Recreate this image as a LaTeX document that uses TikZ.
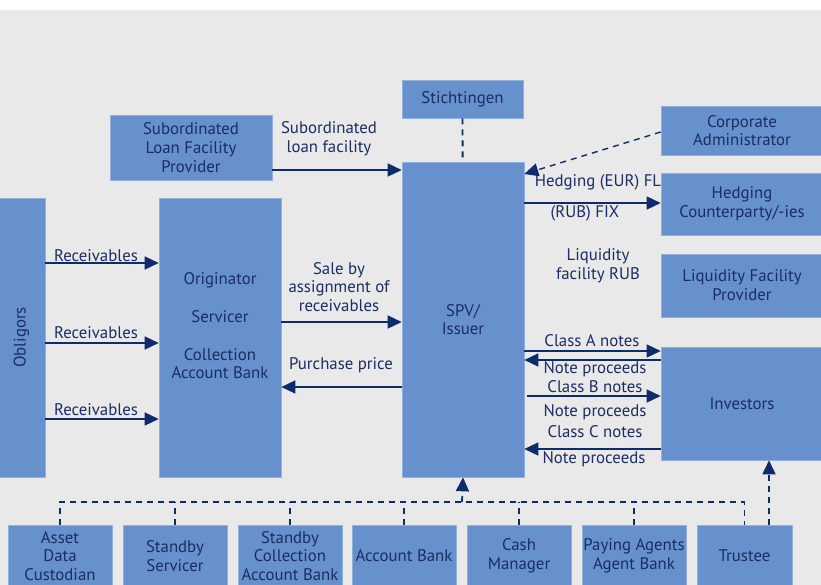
\documentclass[tikz,border=0pt]{standalone}
\usepackage{fontspec}
\setmainfont{PT Sans}
\usetikzlibrary{arrows.meta}
\definecolor{boxblue}{HTML}{6691CD}
\definecolor{boxedge}{HTML}{93B0DD}
\definecolor{navy}{HTML}{1B2D63}
\definecolor{arrnavy}{HTML}{0E2B6C}
\definecolor{bggray}{HTML}{E9E9E9}

\begin{document}
\begin{tikzpicture}[x=1pt, y=-1pt,
  box/.style={draw=boxedge, line width=0.6pt, fill=boxblue, text=navy, align=center,
    inner sep=0pt, font=\fontsize{16.8}{18.7}\selectfont},
  lbl/.style={text=navy, align=center, inner sep=0pt, font=\fontsize{16.8}{18.7}\selectfont},
  arr/.style={draw=arrnavy, line width=1.4pt, -{Triangle[length=14pt,width=13pt]}},
  dsh/.style={draw=arrnavy, line width=1.8pt, dash pattern=on 6pt off 5pt},
  darr/.style={dsh, -{Triangle[length=14pt,width=13pt]}}]
\useasboundingbox (0,0) rectangle (821,585);
\fill[bggray] (0,10) rectangle (821,585);

\node[box, minimum width=121pt, minimum height=38pt] (stich) at (462.5,99) {Stichtingen};
\node[box, minimum width=162pt, minimum height=65pt] (sub) at (191,147.5) {Subordinated\\Loan Facility\\Provider};
\node[box, minimum width=162pt, minimum height=49pt] (corp) at (742,130.5) {Corporate\\Administrator};
\node[box, minimum width=162pt, minimum height=62pt] (hedge) at (742,204) {Hedging\\Counterparty/-ies};
\node[box, minimum width=162pt, minimum height=63pt] (liq) at (742,285.5) {Liquidity Facility\\Provider};
\node[box, minimum width=162pt, minimum height=113pt] (inv) at (742,403.5) {Investors};
\node[box, minimum width=122pt, minimum height=315pt] (spv) at (463,319.5) {SPV/\\Issuer};
\node[box, minimum width=122pt, minimum height=279pt] (orig) at (220,337.5) {};
\node[lbl] (origt) at (220,326) {Originator\\[19pt]Servicer\\[19pt]Collection\\Account Bank};
\node[box, minimum width=47pt, minimum height=279pt] (obl) at (21.5,337.5) {};
\node[lbl, rotate=90] (oblt) at (obl.center) {Obligors};

\node[box, minimum width=104pt, minimum height=62pt] (b1) at (60,556) {Asset\\Data\\Custodian};
\node[box, minimum width=104pt, minimum height=62pt] (b2) at (175,556) {Standby\\Servicer};
\node[box, minimum width=104pt, minimum height=62pt] (b3) at (290,556) {Standby\\Collection\\Account Bank};
\node[box, minimum width=104pt, minimum height=62pt] (b4) at (404,556) {Account Bank};
\node[box, minimum width=104pt, minimum height=62pt] (b5) at (519,556) {Cash\\Manager};
\node[box, minimum width=104pt, minimum height=62pt] (b6) at (634,556) {Paying Agents\\Agent Bank};
\node[box, minimum width=95pt, minimum height=62pt] (b7) at (744.5,556) {Trustee};

\node[lbl] (subl) at (329,139) {Subordinated\\loan facility};
\node[lbl] (hedl) at (598,182) {Hedging (EUR) FL};
\node[lbl] (rubl) at (585,213) {(RUB) FIX};
\node[lbl] (liql) at (598,266) {Liquidity\\facility RUB};
\node[lbl] (cla) at (592,341) {Class A notes};
\node[lbl] (np1) at (595,369) {Note proceeds};
\node[lbl] (clb) at (595,387) {Class B notes};
\node[lbl] (np2) at (595,412) {Note proceeds};
\node[lbl] (clc) at (595,432) {Class C notes};
\node[lbl] (np3) at (594,459) {Note proceeds};
\node[lbl] (sale) at (339,287) {Sale by\\assignment of\\receivables};
\node[lbl] (pp) at (341,365) {Purchase price};
\node[lbl] (r1) at (96,256) {Receivables};
\node[lbl] (r2) at (96,333) {Receivables};
\node[lbl] (r3) at (96,410) {Receivables};

\coordinate (bus) at (462,502);

\draw[dsh] (stich) -- (spv);
\draw[arr] (sub.east |- 0,170) -- (spv.west |- 0,170);
\draw[darr, line width=1.4pt] (corp.west |- 0,132) -- (spv.east |- 0,174);
\draw[arr] (spv.east |- 0,203) -- (hedge.west |- 0,203);
\draw[arr] (spv.east |- 0,351) -- (inv.west |- 0,351);
\draw[arr] (inv.west |- 0,360) -- (spv.east |- 0,360);
\draw[arr] ([xshift=3pt]spv.east |- 0,396) -- (inv.west |- 0,396);
\draw[arr] (inv.west |- 0,449) -- (spv.east |- 0,449);
\draw[arr] (obl.east |- 0,263) -- (orig.west |- 0,263);
\draw[arr] (obl.east |- 0,343) -- (orig.west |- 0,343);
\draw[arr] (obl.east |- 0,419) -- (orig.west |- 0,419);
\draw[arr] (orig.east |- 0,322) -- (spv.west |- 0,322);
\draw[arr] (spv.west |- 0,387) -- (orig.east |- 0,387);

\draw[dsh] (b1.north) |- (bus) -| (b7.north);
\draw[dsh] (b2.north) -- (b2.north |- bus);
\draw[dsh] (b3.north) -- (b3.north |- bus);
\draw[dsh] (b4.north) -- (b4.north |- bus);
\draw[dsh] (b5.north) -- (b5.north |- bus);
\draw[dsh] (b6.north) -- (b6.north |- bus);
\draw[darr] (bus) -- (spv.south);
\draw[darr] ([xshift=24.5pt]b7.north) -- ([xshift=24.5pt]b7.north |- inv.south);
\end{tikzpicture}
\end{document}
